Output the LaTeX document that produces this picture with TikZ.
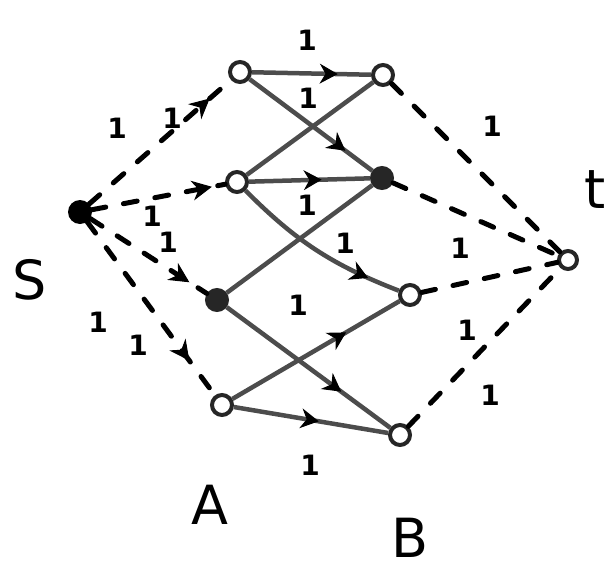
\documentclass[tikz,border=0pt]{standalone}
\usepackage{fontspec}
\setmainfont{DejaVu Sans}
\usetikzlibrary{decorations.markings,arrows.meta}
\begin{document}
\begin{tikzpicture}[x=1pt,y=-1pt,
  vert/.style={circle,draw=black!85,line width=4pt,inner sep=0pt,minimum size=20pt,fill=white},
  fvert/.style={vert,fill=black!85},
  edge/.style={draw=black!70,line width=4.5pt},
  arr/.style={edge,postaction={decorate},decoration={markings,mark=at position #1 with {\arrow[black,line width=1pt]{Stealth[length=18pt,width=20pt]}}}},
  flow/.style={draw=black,line width=5pt,dashed,dash pattern=on 14pt off 18pt,line cap=round},
  flowarr/.style={flow,postaction={decorate},decoration={markings,mark=at position #1 with {\arrow[black,line width=1pt]{Stealth[length=20pt,width=20pt]}}}},
  lab/.style={font=\bfseries\fontsize{28}{28}\selectfont,inner sep=1pt},
  big/.style={font=\fontsize{54}{54}\selectfont,inner sep=0pt}]
\useasboundingbox (0,0) rectangle (616,576);
% vertices
\node[vert] (a1) at (240,72) {};
\node[vert] (a2) at (237,182) {};
\node[fvert] (a3) at (217,300) {};
\node[vert] (a4) at (222,405) {};
\node[vert] (b1) at (383,75) {};
\node[fvert] (b2) at (382,178) {};
\node[vert] (b3) at (410,295) {};
\node[vert] (b4) at (400,435) {};
\node[circle,fill=black,inner sep=0pt,minimum size=24pt] (s) at (80,212) {};
\node[vert,minimum size=18pt] (t) at (568,260) {};
% bipartite edges
\draw[arr=0.72] (a1) -- (b1);
\draw[arr=0.78] (a1) -- (b2);
\draw[edge] (a2) -- (b1);
\draw[arr=0.6] (a2) -- (b2);
\draw[arr=0.82] (a2) to[bend right=12] (b3);
\draw[edge] (a3) -- (b2);
\draw[arr=0.7] (a3) -- (b4);
\draw[arr=0.68] (a4) -- (b3);
\draw[arr=0.55] (a4) -- (b4);
% source and sink edges
\draw[flowarr=0.85] (s) -- (a1);
\draw[flowarr=0.9] (s) -- (a2);
\draw[flowarr=0.85] (s) -- (a3);
\draw[flowarr=0.8] (s) -- (a4);
\draw[flow] (b1) -- (t);
\draw[flow] (b2) -- (t);
\draw[flow] (b3) -- (t);
\draw[flow] (b4) -- (t);
% edge labels
\node[lab] (l1) at (307,40) {1};
\node[lab] (l2) at (308,98) {1};
\node[lab] (l3) at (307,205) {1};
\node[lab] (l4) at (345,243) {1};
\node[lab] (l5) at (298,305) {1};
\node[lab] (l6) at (310,465) {1};
\node[lab] (ls1) at (117,128) {1};
\node[lab] (ls2) at (172,118) {1};
\node[lab] (ls3) at (152,216) {1};
\node[lab] (ls4) at (168,242) {1};
\node[lab] (ls5) at (98,322) {1};
\node[lab] (ls6) at (138,345) {1};
\node[lab] (lt1) at (492,126) {1};
\node[lab] (lt2) at (460,248) {1};
\node[lab] (lt3) at (467,330) {1};
\node[lab] (lt4) at (490,395) {1};
% big labels
\node[big] (S) at (30,280) {S};
\node[big] (T) at (595,190) {t};
\node[big] (A) at (210,505) {A};
\node[big] (B) at (410,538) {B};
\end{tikzpicture}
\end{document}
